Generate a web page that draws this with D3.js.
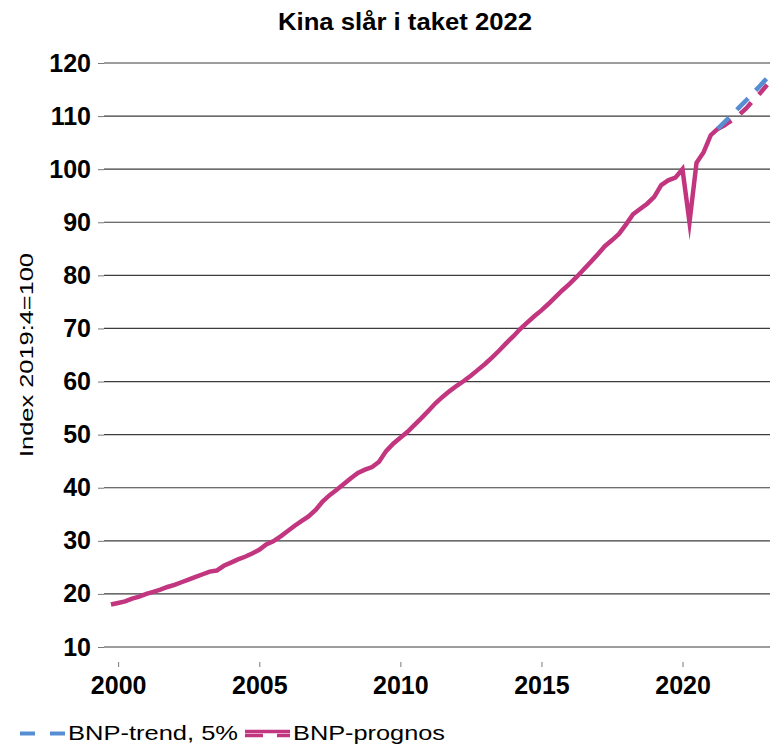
<!DOCTYPE html>
<html>
<head>
<meta charset="utf-8">
<script src="https://cdn.jsdelivr.net/npm/d3@7"></script>
<style>
    body { margin: 0; background: #fff; }
    svg { display: block; font-family: 'Liberation Sans', Arial, sans-serif; }
</style>
</head>
<body>
<div id="chart"></div>
<script>
// Kvartal, BNP-index (2019:4 = 100)
const quarters = [
    '1999Q3', '1999Q4',
    '2000Q1', '2000Q2', '2000Q3', '2000Q4',
    '2001Q1', '2001Q2', '2001Q3', '2001Q4',
    '2002Q1', '2002Q2', '2002Q3', '2002Q4',
    '2003Q1', '2003Q2', '2003Q3', '2003Q4',
    '2004Q1', '2004Q2', '2004Q3', '2004Q4',
    '2005Q1', '2005Q2', '2005Q3', '2005Q4',
    '2006Q1', '2006Q2', '2006Q3', '2006Q4',
    '2007Q1', '2007Q2', '2007Q3', '2007Q4',
    '2008Q1', '2008Q2', '2008Q3', '2008Q4',
    '2009Q1', '2009Q2', '2009Q3', '2009Q4',
    '2010Q1', '2010Q2', '2010Q3', '2010Q4',
    '2011Q1', '2011Q2', '2011Q3', '2011Q4',
    '2012Q1', '2012Q2', '2012Q3', '2012Q4',
    '2013Q1', '2013Q2', '2013Q3', '2013Q4',
    '2014Q1', '2014Q2', '2014Q3', '2014Q4',
    '2015Q1', '2015Q2', '2015Q3', '2015Q4',
    '2016Q1', '2016Q2', '2016Q3', '2016Q4',
    '2017Q1', '2017Q2', '2017Q3', '2017Q4',
    '2018Q1', '2018Q2', '2018Q3', '2018Q4',
    '2019Q1', '2019Q2', '2019Q3', '2019Q4',
    '2020Q1', '2020Q2', '2020Q3', '2020Q4',
    '2021Q1', '2021Q2'
];
const bnp = [
    18.0, 18.3,
    18.6, 19.1, 19.5, 20.0,
    20.4, 20.8, 21.3, 21.7,
    22.2, 22.7, 23.2, 23.7,
    24.2, 24.4, 25.3, 25.9,
    26.5, 27.0, 27.6, 28.3,
    29.3, 29.9, 30.8, 31.8,
    32.8, 33.7, 34.6, 35.8,
    37.4, 38.6, 39.6, 40.7,
    41.8, 42.8, 43.4, 43.9,
    44.9, 46.9, 48.3, 49.4,
    50.5, 51.8, 53.1, 54.5,
    55.9, 57.1, 58.2, 59.2,
    60.1, 61.1, 62.2, 63.3,
    64.5, 65.8, 67.2, 68.5,
    69.9, 71.1, 72.3, 73.4,
    74.6, 75.9, 77.2, 78.4,
    79.7, 81.1, 82.5, 84.0,
    85.5, 86.6, 87.8, 89.6,
    91.5, 92.5, 93.5, 94.8,
    97.0, 97.9, 98.4, 100.0,
    90.0, 101.2, 103.2, 106.4,
    107.6, 108.3
];

const forecastQuarters = ['2021Q1', '2021Q2', '2021Q3', '2021Q4', '2022Q1', '2022Q2', '2022Q3', '2022Q4'];
const bnpTrend = [107.6, 108.9, 110.2, 111.6, 112.9, 114.3, 115.7, 117.2];
const bnpPrognos = [107.6, 108.3, 109.2, 110.2, 111.4, 112.9, 114.3, 115.9];

const yTicks = [10, 20, 30, 40, 50, 60, 70, 80, 90, 100, 110, 120];
const xTickYears = [2000, 2005, 2010, 2015, 2020];

const title = 'Kina slår i taket 2022';
const yLabel = 'Index 2019:4=100';
const legendLabels = ['BNP-trend, 5%', 'BNP-prognos'];

const width = 775, height = 744;
const pink = '#C2367F', blue = '#568DD3';

// kvartal -> sista dagen i kvartalet
function quarterEnd(q) {
    const y = +q.slice(0, 4), n = +q.slice(5);
    return new Date(y, n * 3, 0);
}

const svg = d3.select('#chart')
    .append('svg')
    .attr('width', width)
    .attr('height', height);

const x = d3.scaleTime()
    .domain([new Date(1999, 6, 2), new Date(2023, 1, 6)])
    .range([104, 770]);

const y = d3.scaleLinear()
    .domain([10, 120])
    .range([647, 63]);

// Rubrik
svg.append('text')
    .attr('x', 405)
    .attr('y', 30)
    .attr('text-anchor', 'middle')
    .attr('textLength', 254)
    .attr('lengthAdjust', 'spacingAndGlyphs')
    .style('font-size', '23px')
    .style('font-weight', 'bold')
    .text(title);

// Y-axel med rutnät
const yAxis = svg.append('g')
    .attr('transform', 'translate(104,0)')
    .call(d3.axisLeft(y).tickValues(yTicks).tickSize(6).tickPadding(7));
yAxis.select('.domain').remove();
yAxis.selectAll('.tick line').attr('stroke', '#777');
yAxis.selectAll('.tick text')
    .attr('fill', '#000')
    .style('font-size', '25px')
    .style('font-weight', 'bold')
    .style('font-family', "'Liberation Sans', Arial, sans-serif");

svg.append('g')
    .selectAll('line')
    .data(yTicks)
    .join('line')
    .attr('x1', 104)
    .attr('x2', 770)
    .attr('y1', d => y(d))
    .attr('y2', d => y(d))
    .attr('stroke', '#3c3c3c')
    .attr('stroke-width', 1.2);

// X-axel
const xAxis = svg.append('g')
    .attr('transform', 'translate(0,662)')
    .call(d3.axisBottom(x)
        .tickValues(xTickYears.map(yr => new Date(yr, 0, 1)))
        .tickFormat(d3.timeFormat('%Y'))
        .tickSize(5)
        .tickPadding(9));
xAxis.select('.domain').remove();
xAxis.selectAll('.tick line').attr('stroke', '#777');
xAxis.selectAll('.tick text')
    .attr('fill', '#000')
    .style('font-size', '25px')
    .style('font-weight', 'bold')
    .style('font-family', "'Liberation Sans', Arial, sans-serif");

// Y-axelns titel
svg.append('text')
    .attr('transform', 'translate(33,355) rotate(-90)')
    .attr('text-anchor', 'middle')
    .attr('textLength', 204)
    .attr('lengthAdjust', 'spacingAndGlyphs')
    .style('font-size', '18px')
    .text(yLabel);

// Linjer
const line = d3.line()
    .x(d => x(quarterEnd(d.q)))
    .y(d => y(d.v));

svg.append('path')
    .datum(quarters.map((q, i) => ({ q, v: bnp[i] })))
    .attr('d', line)
    .attr('fill', 'none')
    .attr('stroke', pink)
    .attr('stroke-width', 4.5)
    .attr('stroke-miterlimit', 10);

svg.append('path')
    .datum(forecastQuarters.map((q, i) => ({ q, v: bnpPrognos[i] })))
    .attr('d', line)
    .attr('fill', 'none')
    .attr('stroke', pink)
    .attr('stroke-width', 4.5)
    .attr('stroke-dasharray', '16,11');

svg.append('path')
    .datum(forecastQuarters.map((q, i) => ({ q, v: bnpTrend[i] })))
    .attr('d', line)
    .attr('fill', 'none')
    .attr('stroke', blue)
    .attr('stroke-width', 4.5)
    .attr('stroke-dasharray', '16,11');

// Teckenförklaring
const legend = svg.append('g');
legend.append('line')
    .attr('x1', 20).attr('x2', 65)
    .attr('y1', 733.5).attr('y2', 733.5)
    .attr('stroke', blue)
    .attr('stroke-width', 4)
    .attr('stroke-dasharray', '15,15');
legend.append('text')
    .attr('x', 68)
    .attr('y', 740)
    .attr('textLength', 170)
    .attr('lengthAdjust', 'spacingAndGlyphs')
    .style('font-size', '21px')
    .text(legendLabels[0]);

legend.append('line')
    .attr('x1', 245).attr('x2', 290)
    .attr('y1', 731.5).attr('y2', 731.5)
    .attr('stroke', pink)
    .attr('stroke-width', 3.5);
legend.append('line')
    .attr('x1', 245).attr('x2', 290)
    .attr('y1', 735.5).attr('y2', 735.5)
    .attr('stroke', pink)
    .attr('stroke-width', 3.5)
    .attr('stroke-dasharray', '18,14');
legend.append('text')
    .attr('x', 293)
    .attr('y', 740)
    .attr('textLength', 152)
    .attr('lengthAdjust', 'spacingAndGlyphs')
    .style('font-size', '21px')
    .text(legendLabels[1]);
</script>
</body>
</html>
